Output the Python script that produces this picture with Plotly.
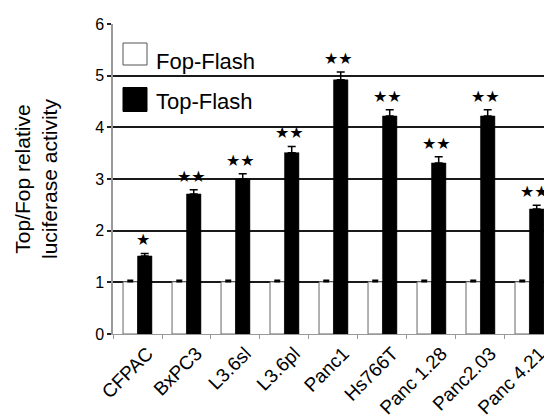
import plotly.graph_objects as go

categories = ["CFPAC", "BxPC3", "L3.6sl", "L3.6pl", "Panc1", "Hs766T",
              "Panc 1.28", "Panc2.03", "Panc 4.21"]
fop_values = [1.01, 1.01, 1.01, 1.01, 1.01, 1.01, 1.01, 1.01, 1.01]
fop_errors = [0.03, 0.03, 0.03, 0.03, 0.03, 0.03, 0.03, 0.03, 0.03]
top_values = [1.51, 2.71, 3.00, 3.51, 4.92, 4.22, 3.31, 4.22, 2.42]
top_errors = [0.05, 0.08, 0.10, 0.12, 0.15, 0.12, 0.12, 0.12, 0.07]
significance = ["★", "★★", "★★", "★★", "★★", "★★", "★★", "★★", "★★"]
y_ticks = [0, 1, 2, 3, 4, 5, 6]

FONT = "Liberation Sans, Arial, Helvetica, sans-serif"
OFF = 8  # page body margin offset in the browser window
W, H = 552 - OFF, 418 - OFF
ML, MT = 113 - OFF, 24 - OFF
PLOT_BOTTOM = 334 - OFF
MB = H - PLOT_BOTTOM
plot_w = W - ML
plot_h = H - MT - MB

fig = go.Figure()
fig.add_trace(go.Bar(
    name="Fop-Flash", x=categories, y=fop_values,
    marker=dict(color="white", line=dict(color="#666666", width=1)),
    error_y=dict(type="data", array=fop_errors, symmetric=False,
                 arrayminus=[0] * len(fop_errors), color="black",
                 thickness=1.5, width=3),
    showlegend=False,
))
fig.add_trace(go.Bar(
    name="Top-Flash", x=categories, y=top_values,
    marker=dict(color="black", line=dict(color="black", width=0.5)),
    error_y=dict(type="data", array=top_errors, symmetric=False,
                 arrayminus=[0] * len(top_errors), color="black",
                 thickness=1.5, width=4),
    showlegend=False,
))

# significance marks above the Top-Flash bars
for cat, v, e, s in zip(categories, top_values, top_errors, significance):
    fig.add_annotation(x=cat, y=v + e, xref="x", yref="y", text=s,
                       showarrow=False, xshift=5, yshift=2,
                       yanchor="bottom", xanchor="center",
                       font=dict(family="DejaVu Sans", size=16, color="black"))

# legend drawn manually (large swatches); positions in window pixels
def px_x(px):
    return (px - OFF - ML) / plot_w

def px_y(py):
    return (MT + plot_h - (py - OFF)) / plot_h

fig.add_shape(type="rect", xref="paper", yref="paper",
              x0=px_x(123), x1=px_x(147), y0=px_y(65), y1=px_y(43),
              fillcolor="white", line=dict(color="#555555", width=1))
fig.add_shape(type="rect", xref="paper", yref="paper",
              x0=px_x(123), x1=px_x(147), y0=px_y(111.5), y1=px_y(87.5),
              fillcolor="black", line=dict(color="black", width=1))
fig.add_annotation(xref="paper", yref="paper", x=px_x(154), y=px_y(61),
                   text="Fop-Flash", showarrow=False, xanchor="left",
                   yanchor="middle", font=dict(family=FONT, size=22, color="black"))
fig.add_annotation(xref="paper", yref="paper", x=px_x(154), y=px_y(101.5),
                   text="Top-Flash", showarrow=False, xanchor="left",
                   yanchor="middle", font=dict(family=FONT, size=22, color="black"))

# y-axis title
fig.add_annotation(xref="paper", yref="paper", x=px_x(36), y=0.5,
                   text="Top/Fop relative<br>luciferase activity",
                   showarrow=False, textangle=-90, xanchor="center",
                   yanchor="middle", font=dict(family=FONT, size=21, color="black"))

fig.update_layout(
    width=W, height=H,
    margin=dict(l=ML, r=0, t=MT, b=MB, pad=0, autoexpand=False),
    paper_bgcolor="white", plot_bgcolor="white",
    barmode="group", bargap=0.41, bargroupgap=0.0,
    font=dict(family=FONT, color="black"),
    xaxis=dict(
        range=[-0.5, 8.46], tickangle=-45, tickson="boundaries",
        ticks="outside", ticklen=4, tickcolor="#999999", tickwidth=1,
        showline=True, linecolor="#999999", linewidth=1,
        showgrid=False, zeroline=False, automargin=False,
        tickfont=dict(family=FONT, size=19, color="black"),
        ticklabelshift=10,
    ),
    yaxis=dict(
        range=[0, 6], tickvals=y_ticks, ticktext=[str(t) for t in y_ticks],
        ticks="outside", ticklen=4, tickcolor="#222222", tickwidth=1.5,
        showline=True, linecolor="#999999", linewidth=1.5,
        showgrid=True, gridcolor="#1a1a1a", gridwidth=1.6,
        zeroline=False, automargin=False,
        tickfont=dict(family=FONT, size=16, color="black"),
    ),
)

fig.write_html("out.html")
